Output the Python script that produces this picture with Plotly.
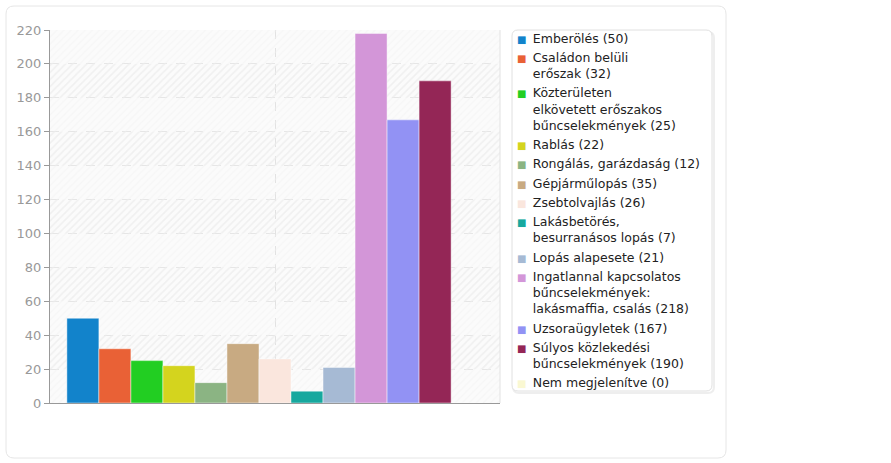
import plotly.graph_objects as go

categories = [
    "Emberölés (50)",
    "Családon belüli<br>erőszak (32)",
    "Közterületen<br>elkövetett erőszakos<br>bűncselekmények (25)",
    "Rablás (22)",
    "Rongálás, garázdaság (12)",
    "Gépjárműlopás (35)",
    "Zsebtolvajlás (26)",
    "Lakásbetörés,<br>besurranásos lopás (7)",
    "Lopás alapesete (21)",
    "Ingatlannal kapcsolatos<br>bűncselekmények:<br>lakásmaffia, csalás (218)",
    "Uzsoraügyletek (167)",
    "Súlyos közlekedési<br>bűncselekmények (190)",
    "Nem megjelenítve (0)",
]
values = [50, 32, 25, 22, 12, 35, 26, 7, 21, 218, 167, 190, 0]
colors = ["#1283CB", "#E96136", "#22CE22", "#D4D41E", "#8BB483", "#C8AA82",
          "#FAE6DD", "#17A89E", "#A6BAD4", "#D396D8", "#9292F4", "#942656", "#FAF8D2"]
y_ticks = list(range(0, 221, 20))

W, H = 891, 463
L, R, T, B = 50, 500, 30, 403


def px(x):
    return (x - L) / (R - L)


def py(y):
    return (B - y) / (B - T)


def rrect(x0, y0, x1, y1, r):
    X0, X1 = px(x0), px(x1)
    Y0, Y1 = py(y0), py(y1)
    rx = r / (R - L)
    ry = r / (B - T)
    return (f"M {X0+rx},{Y0} L {X1-rx},{Y0} Q {X1},{Y0} {X1},{Y0-ry} "
            f"L {X1},{Y1+ry} Q {X1},{Y1} {X1-rx},{Y1} L {X0+rx},{Y1} "
            f"Q {X0},{Y1} {X0},{Y1+ry} L {X0},{Y0-ry} Q {X0},{Y0} {X0+rx},{Y0} Z")


def legend_label(text, color):
    mark = lambda c: f'<span style="font-size:10px;color:{c}">■\u00a0\u00a0</span>'
    lines = text.split("<br>")
    out = [mark(color) + lines[0]] + [mark("rgba(0,0,0,0)") + ln for ln in lines[1:]]
    return "<br>".join(out)


fig = go.Figure()

# background hatch (main axes)
ymax = y_ticks[-1]
fig.add_trace(go.Scatter(
    x=[-0.5, 0.5, 0.5, -0.5, -0.5], y=[0, 0, ymax, ymax, 0],
    mode="none", fill="toself", fillcolor="rgba(0,0,0,0)",
    fillpattern=dict(shape="/", fgcolor="#f1f1f1", bgcolor="rgba(0,0,0,0)", size=5, solidity=0.25),
    showlegend=False, hoverinfo="skip"))
bx, by = [], []
for i in range(1, len(y_ticks) - 1, 2):
    lo, hi = y_ticks[i], y_ticks[i + 1]
    bx += [-0.5, 0.5, 0.5, -0.5, -0.5, None]
    by += [lo, lo, hi, hi, lo, None]
fig.add_trace(go.Scatter(
    x=bx, y=by, mode="none", fill="toself", fillcolor="rgba(0,0,0,0)",
    fillpattern=dict(shape="/", fgcolor="#e9e9e9", bgcolor="rgba(0,0,0,0)", size=5, solidity=0.3),
    showlegend=False, hoverinfo="skip"))

# data bars (overlaid axes)
for name, v, c in zip(categories, values, colors):
    fig.add_trace(go.Bar(
        x=[0], y=[v], name=name, marker=dict(color=c, line=dict(color="rgba(255,255,255,0.45)", width=1)),
        xaxis="x2", yaxis="y2", showlegend=False))
    fig.add_trace(go.Scatter(
        x=[None], y=[None], name=legend_label(name, c), mode="markers",
        marker=dict(symbol="square", size=1, color="rgba(0,0,0,0)"),
        xaxis="x2", yaxis="y2", showlegend=True, hoverinfo="skip"))

shapes = [
    dict(type="path", xref="paper", yref="paper", path=rrect(6, 6, 726, 458, 8),
         line=dict(color="#e6e6e6", width=1), fillcolor="rgba(0,0,0,0)", layer="below"),
    dict(type="path", xref="paper", yref="paper", path=rrect(513, 32, 714, 393, 6),
         line=dict(color="#eeeeee", width=2), fillcolor="rgba(0,0,0,0)", layer="below"),
    dict(type="path", xref="paper", yref="paper", path=rrect(512, 30, 712, 391, 6),
         line=dict(color="#e0e0e0", width=1), fillcolor="white", layer="below"),
    dict(type="line", xref="paper", yref="paper", x0=1, x1=1, y0=0, y1=1,
         line=dict(color="#e2e2e2", width=1)),
]

fig.update_layout(
    width=W, height=H,
    margin=dict(l=L, r=W - R, t=T, b=H - B, pad=0),
    paper_bgcolor="white", plot_bgcolor="#fbfbfb",
    barmode="group", bargap=0.075, bargroupgap=0,
    font=dict(family="DejaVu Sans", size=13, color="#333333"),
    xaxis=dict(range=[-0.5, 0.5], tickvals=[0], showticklabels=False, ticks="",
               showgrid=True, gridcolor="#e2e2e2", griddash="dash", gridwidth=1,
               showline=True, linecolor="#999999", linewidth=1, zeroline=False,
               layer="below traces", fixedrange=True),
    yaxis=dict(range=[0, ymax], tickvals=y_ticks, ticks="outside", ticklen=5,
               tickcolor="#999999", tickfont=dict(color="#999999", size=13),
               showgrid=True, gridcolor="#e6e6e6", griddash="dash", gridwidth=1,
               showline=True, linecolor="#999999", linewidth=1, zeroline=False,
               layer="below traces", fixedrange=True),
    xaxis2=dict(range=[-0.5, 0.5], overlaying="x", visible=False, fixedrange=True),
    yaxis2=dict(range=[0, ymax], overlaying="y", visible=False, fixedrange=True),
    legend=dict(x=px(477), xanchor="left", y=py(23), yanchor="top", maxheight=450,
                bgcolor="rgba(0,0,0,0)", borderwidth=0,
                font=dict(family="DejaVu Sans", size=12.5, color="#222222"),
                itemclick=False, itemdoubleclick=False, tracegroupgap=0),
    shapes=shapes,
    showlegend=True,
)

fig.write_html("out.html")
